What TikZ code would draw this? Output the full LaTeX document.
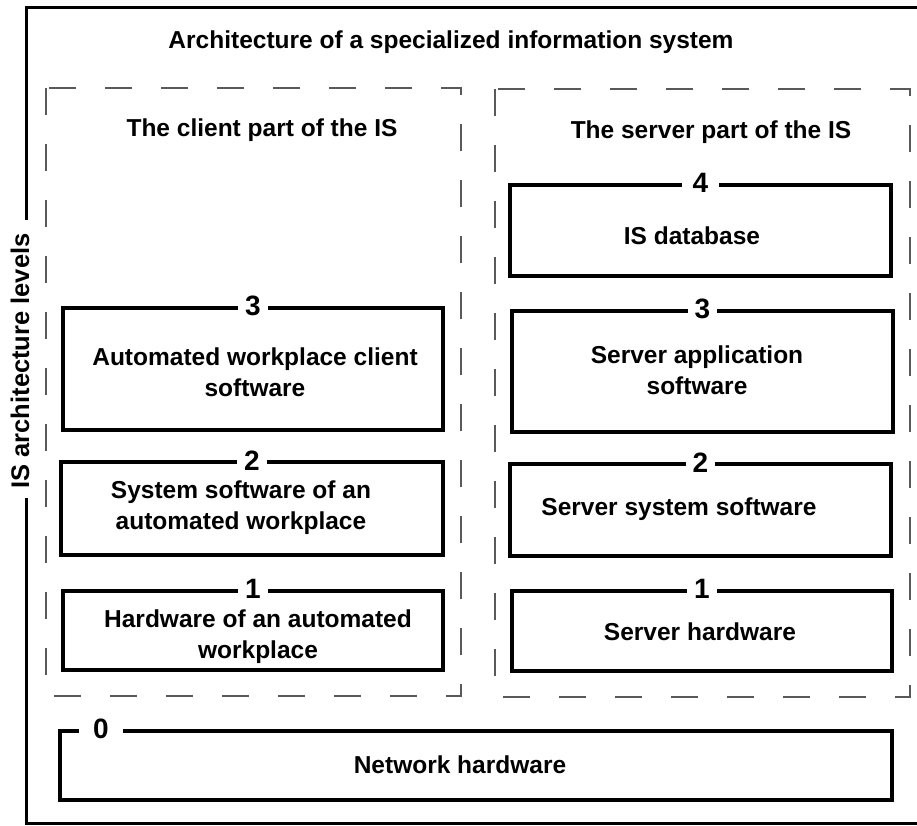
\documentclass[tikz,border=0pt]{standalone}
\usepackage{fontspec}
\setmainfont{Liberation Sans}
\begin{document}
\begin{tikzpicture}[x=1pt,y=-1pt,
  every node/.style={font=\bfseries\fontsize{24.5}{31}\selectfont, text=black},
  frame/.style={line width=3pt},
  part/.style={draw=black!65, line width=1.5pt, dash pattern=on 27pt off 29pt},
  levelbox/.style={draw, line width=3.5pt, inner sep=0pt},
  levelnum/.style={fill=white, inner xsep=7pt, inner ysep=1pt,
    font=\bfseries\fontsize{28}{31}\selectfont},
  caption/.style={align=center, inner sep=0pt}]

% canvas
\useasboundingbox (0,0) rectangle (917,825);

% outer frame, open on the right, broken on the left by the axis label
\node[rotate=90, inner sep=0pt, font=\bfseries\fontsize{25.5}{31}\selectfont] (axis) at (20,361) {IS architecture levels};
\coordinate (fa) at (26,220);
\coordinate (fb) at (26,498);
\draw[frame] (fa) -- (26,7) -- (917,7);
\draw[frame] (fb) -- (26,823) -- (917,823);

\node[caption] (title) at (451,42) {Architecture of a specialized information system};

% client and server parts
\draw[part] (46,88) rectangle (461,696);
\draw[part] (495,89) rectangle (910,697);
\node[caption] (client) at (262,130) {The client part of the IS};
\node[caption] (server) at (711,132) {The server part of the IS};

% client levels
\node[levelbox, minimum width=380pt, minimum height=122pt] (c3) at (253,369) {};
\node[levelbox, minimum width=382pt, minimum height=93pt] (c2) at (252,508.5) {};
\node[levelbox, minimum width=380pt, minimum height=79pt] (c1) at (253,630.5) {};
\node[caption] (c3t) at (255,372) {Automated workplace client\\software};
\node[caption] (c2t) at (241,508) {System software of an\\automated workplace};
\node[caption] (c1t) at (258,637) {Hardware of an automated\\workplace};
\node[levelnum] (c3n) at (c3.north) {3};
\node[levelnum] (c2n) at (c2.north) {2};
\node[levelnum] (c1n) at (c1.north) {1};

% server levels
\node[levelbox, minimum width=381pt, minimum height=91pt] (s4) at (700.5,230.5) {};
\node[levelbox, minimum width=381pt, minimum height=121pt] (s3) at (702.5,371.5) {};
\node[levelbox, minimum width=381pt, minimum height=92pt] (s2) at (700.5,510) {};
\node[levelbox, minimum width=380pt, minimum height=80pt] (s1) at (702,631) {};
\node[caption] (s4t) at (692,236) {IS database};
\node[caption] (s3t) at (697,370) {Server application\\software};
\node[caption] (s2t) at (679,509) {Server system software};
\node[caption] (s1t) at (700,632) {Server hardware};
\node[levelnum, inner xsep=11pt] (s4n) at (s4.north) {4};
\node[levelnum] (s3n) at (s3.north) {3};
\node[levelnum] (s2n) at (s2.north) {2};
\node[levelnum] (s1n) at (s1.north) {1};

% network level
\node[levelbox, minimum width=832pt, minimum height=69pt] (net) at (476,765.5) {};
\node[caption] (nett) at (460,765) {Network hardware};
\node[levelnum, inner xsep=14pt] (netn) at (101,729) {0};

\end{tikzpicture}
\end{document}
